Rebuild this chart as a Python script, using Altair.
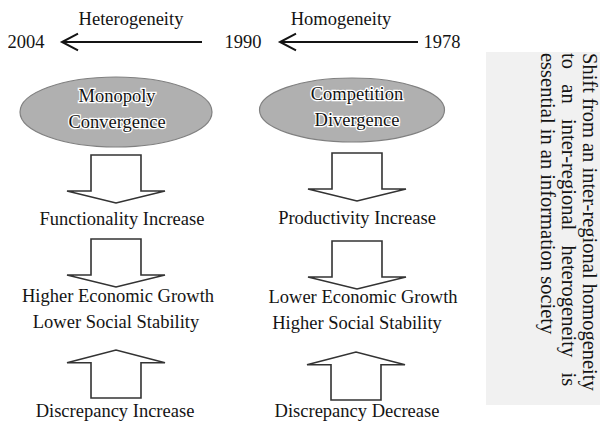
import altair as alt
import pandas as pd

# ---------------- data (texts of the diagram) ----------------
period_labels = ["Heterogeneity", "Homogeneity"]
years = ["2004", "1990", "1978"]
ellipse_lines = ["Monopoly", "Convergence", "Competition", "Divergence"]
left_effects = ["Functionality Increase", "Higher Economic Growth",
                "Lower Social Stability", "Discrepancy Increase"]
right_effects = ["Productivity Increase", "Lower Economic Growth",
                 "Higher Social Stability", "Discrepancy Decrease"]
NB = "\u00a0"
side_note = ["Shift from an inter-regional homogeneity",
             ("to" + NB * 3 + "an" + NB * 3 + "inter-regional" + NB * 3
              + "heterogeneity" + NB * 3 + "is"),
             "essential in an information society"]

# ---------------- layout (reference pixel positions) ----------------
period_xy = [(131, 19), (341, 19)]
year_xy = [(26, 42), (243, 42), (442, 42)]
ellipse_text_xy = [(117, 96), (117, 122), (357, 94), (357, 120)]
left_xy = [(122, 219), (118, 296), (116, 322), (115, 411)]
right_xy = [(357, 218), (363, 297), (357, 323), (357, 411)]
side_xy = [(589, 53), (568, 53), (547, 53)]

line_x = [62, 280]
line_x2 = [202, 418]
line_y = [42, 42]
head_xy = [(70, 42), (288, 42)]

ellipse_xy = [(116, 112), (352, 110)]
ellipse_wh = [(192, 70), (185, 64)]

down_xy = [(116, 179), (116, 263), (357, 177), (357, 265)]
up_xy = [(116, 374), (356, 376)]

side_box = dict(x=486, x2=600, y=52, y2=405)

# ---------------- scales ----------------
xs = alt.Scale(domain=[8, 600], nice=False, zero=False)
ys = alt.Scale(domain=[8, 422], nice=False, zero=False, reverse=True)


def X(f="x"):
    return alt.X(f"{f}:Q", scale=xs, axis=None)


def Y(f="y"):
    return alt.Y(f"{f}:Q", scale=ys, axis=None)


FONT = "Liberation Serif"
INK = "#141414"

layers = []

# side stippled box
box_df = pd.DataFrame([side_box])
layers.append(alt.Chart(box_df).mark_rect(color="#f1f1f1").encode(
    x=X("x"), x2="x2:Q", y=Y("y"), y2="y2:Q"))

# timeline arrows
rule_df = pd.DataFrame({"x": line_x, "x2": line_x2, "y": line_y})
layers.append(alt.Chart(rule_df).mark_rule(color=INK, strokeWidth=2).encode(
    x=X("x"), x2="x2:Q", y=Y("y")))
head_df = pd.DataFrame(head_xy, columns=["x", "y"])
layers.append(alt.Chart(head_df).mark_point(
    shape="M 1 -1.05 L -1 0 L 1 1.05", size=256, filled=False,
    stroke=INK, strokeWidth=2, opacity=1).encode(x=X(), y=Y()))


# ellipses
def ellipse_path(ry, k=0.5523):
    a = round(k * ry, 4)
    return (f"M 1 0 C 1 {a} {k} {ry} 0 {ry} "
            f"C {-k} {ry} -1 {a} -1 0 "
            f"C -1 {-a} {-k} {-ry} 0 {-ry} "
            f"C {k} {-ry} 1 {-a} 1 0 Z")


for (cx, cy), (w, h) in zip(ellipse_xy, ellipse_wh):
    edf = pd.DataFrame({"x": [cx], "y": [cy]})
    layers.append(alt.Chart(edf).mark_point(
        shape=ellipse_path(round(h / w, 4)), size=w * w, filled=True,
        fill="#b0b0b0", stroke="#808080", strokeWidth=1.2, opacity=1
    ).encode(x=X(), y=Y()))

# block arrows
down_path = ("M -0.51 -0.49 L 0.51 -0.49 L 0.51 0.245 L 1 0.245 "
             "L 0 0.49 L -1 0.245 L -0.51 0.245 Z")
up_path = ("M -0.51 0.49 L 0.51 0.49 L 0.51 -0.23 L 1 -0.23 "
           "L 0 -0.49 L -1 -0.23 L -0.51 -0.23 Z")
for path, pts in [(down_path, down_xy), (up_path, up_xy)]:
    adf = pd.DataFrame(pts, columns=["x", "y"])
    layers.append(alt.Chart(adf).mark_point(
        shape=path, size=98 * 98, filled=True, fill="white",
        stroke="#333333", strokeWidth=1.6, opacity=1
    ).encode(x=X(), y=Y()))

# texts
texts = (period_labels + years + left_effects + right_effects)
xy = period_xy + year_xy + left_xy + right_xy
tdf = pd.DataFrame({"t": texts, "x": [p[0] for p in xy], "y": [p[1] for p in xy]})
layers.append(alt.Chart(tdf).mark_text(
    font=FONT, fontSize=18.5, color=INK, align="center", baseline="middle"
).encode(x=X(), y=Y(), text="t:N"))

edf = pd.DataFrame({"t": ellipse_lines,
                    "x": [p[0] for p in ellipse_text_xy],
                    "y": [p[1] for p in ellipse_text_xy]})
layers.append(alt.Chart(edf).mark_text(
    font=FONT, fontSize=18.5, color="white", stroke="white", strokeWidth=2.5,
    align="center", baseline="middle"
).encode(x=X(), y=Y(), text="t:N"))
layers.append(alt.Chart(edf).mark_text(
    font=FONT, fontSize=18.5, color=INK, align="center", baseline="middle"
).encode(x=X(), y=Y(), text="t:N"))

sdf = pd.DataFrame({"t": side_note,
                    "x": [p[0] for p in side_xy],
                    "y": [p[1] for p in side_xy]})
layers.append(alt.Chart(sdf).mark_text(
    font=FONT, fontSize=20.5, color=INK, align="left", baseline="middle",
    angle=90
).encode(x=X(), y=Y(), text="t:N"))

chart = alt.layer(*layers).properties(
    width=592, height=414, padding=0, autosize=alt.AutoSizeParams(type="none"),
    background="white"
).configure_view(stroke=None)

chart.save("out.html", embed_options={"renderer": "svg", "actions": False})
